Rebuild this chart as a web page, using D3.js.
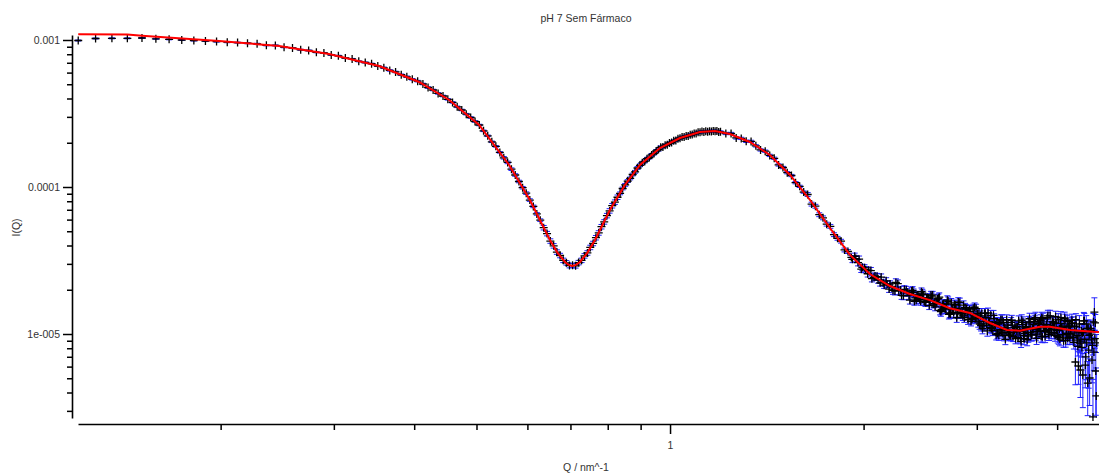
<!DOCTYPE html>
<html><head><meta charset="utf-8">
<script src="https://cdn.jsdelivr.net/npm/d3@7"></script>
<style>
body{margin:0;background:#fff}
svg{display:block}
text{font-family:"Liberation Sans",Arial,sans-serif}
</style>
</head><body>
<svg id="chart" width="1099" height="473"></svg>
<script>
// ---- data (Q in nm^-1, intensities in units of 1e-6) ----
const qValues = [
0.1201,0.1278,0.1355,0.1432,0.1509,0.1586,0.1663,0.174,0.1817,0.1894,
0.1971,0.2048,0.2125,0.2202,0.2279,0.2356,0.2433,0.251,0.2587,0.2664,
0.2741,0.2818,0.2895,0.2972,0.3049,0.3126,0.3203,0.328,0.3357,0.3434,
0.3511,0.3588,0.3665,0.3742,0.3819,0.3896,0.3973,0.405,0.4127,0.4204,
0.4281,0.4358,0.4435,0.4512,0.4589,0.4666,0.4743,0.482,0.4897,0.4974,
0.5051,0.5128,0.5205,0.5282,0.5359,0.5436,0.5513,0.559,0.5667,0.5744,
0.5821,0.5898,0.5975,0.6052,0.6129,0.6206,0.6283,0.636,0.6437,0.6514,
0.6591,0.6668,0.6745,0.6822,0.6899,0.6976,0.7053,0.713,0.7207,0.7284,
0.7361,0.7438,0.7515,0.7592,0.7669,0.7746,0.7823,0.79,0.7977,0.8054,
0.8131,0.8208,0.8285,0.8362,0.8439,0.8516,0.8593,0.867,0.8747,0.8824,
0.8901,0.8978,0.9055,0.9132,0.9209,0.9286,0.9363,0.944,0.9517,0.9594,
0.9671,0.9748,0.9825,0.9902,0.9979,1.0056,1.0133,1.021,1.0287,1.0364,
1.0441,1.0518,1.0595,1.0672,1.0749,1.0826,1.0903,1.098,1.1057,1.1134,
1.1211,1.1288,1.1365,1.1442,1.1519,1.1596,1.1673,1.175,1.1827,1.1904,1.1981,
1.2212,1.2443,1.2674,1.2905,1.3136,1.3367,1.3598,1.3829,1.406,1.4291,
1.4522,1.4753,1.4984,1.5215,1.5446,1.5677,1.5908,1.6139,1.637,1.6601,
1.6832,1.7063,1.7294,1.7525,1.7756,1.7987,1.8218,1.8449,1.868,1.8911,
1.9142,1.9373,1.9604,1.9835,2.0066,2.0297,2.0528,2.0759,2.099,2.1221,
2.1452,2.1683,2.1914,2.2145,2.2376,2.2607,2.2838,2.3069,2.33,2.3531,
2.3762,2.3993,2.4224,2.4455,2.4686,2.4917,2.5148,2.5379,2.561,2.5841,
2.6072,2.6303,2.6534,2.6765,2.6996,2.7227,2.7458,2.7689,2.792,2.8151,
2.8382,2.8613,2.8844,2.9075,2.9306,2.9537,2.9768,2.9999,3.023,3.0461,
3.0692,3.0923,3.1154,3.1385,3.1616,3.1847,3.2078,3.2309,3.254,3.2771,
3.3002,3.3233,3.3464,3.3695,3.3926,3.4157,3.4388,3.4619,3.485,3.5081,
3.5312,3.5543,3.5774,3.6005,3.6236,3.6467,3.6698,3.6929,3.716,3.7391,
3.7622,3.7853,3.8084,3.8315,3.8546,3.8777,3.9008,3.9239,3.947,3.9701,
3.9932,4.0163,4.0394,4.0625,4.0856,4.1087,4.1318,4.1549,4.178,4.2011,
4.2242,4.2473,4.2704,4.2935,4.3166,4.3397,4.3628,4.3859,4.409,4.4321,
4.4552,4.4783,4.5014,4.5245,4.5476,4.5707,4.5938
];
const intensityE6 = [
992,1024,1027,1027,1032,1019,1011,1000,992,984,
975,966,960,950,942,920,918,893,882,858,
848,825,816,791,781,754,743,716,703,690,
665,647,621,606,580,562,540,525,502,475,
457,433,416,395,376,351,334,313,297,279,
264,241,223,203,189,172,158,147,132.2,120.7,
109.0,98.9,90.8,81.5,73.8,65.6,59.5,52.9,48.2,42.9,
39.8,36.1,34.2,31.7,30.5,29.2,29.3,29.1,30.6,31.7,
34.0,35.6,38.8,41.3,45.2,48.7,53.7,57.9,63.9,68.8,
74.6,78.9,85.2,90.5,97.7,103.4,109.7,114.4,121.6,126.9,
134.7,140.5,146.1,149.3,155.6,158.7,165.3,169.0,175.7,179.6,
186.2,187.4,192.4,194.0,199.2,200.8,206.2,207.5,212.8,214.8,
218.5,218.8,222.3,222.7,226.5,227.2,231.2,231.6,235.6,236.0,
238.2,237.1,239.3,237.8,239.7,238.9,240.8,239.3,240.0,236.7,237.4,
231.2,231.2,215.8,214.1,204.6,204.3,190.6,178.8,175.2,164.0,
156.8,141.2,135.7,125.1,119.7,107.0,101.0,92.3,88.9,76.5,
74.0,64.8,61.7,55.9,54.0,47.4,44.8,42.8,37.3,36.4,
33.2,33.8,30.6,27.6,28.2,25.7,27.0,24.3,24.6,22.3,
22.3,23.0,20.2,21.1,19.6,22.0,19.9,18.2,19.9,18.3,
19.6,16.7,18.4,17.2,19.0,16.5,17.7,16.8,18.4,15.3,
17.3,14.5,15.9,14.9,17.0,13.9,14.7,15.9,12.9,15.0,
13.7,15.7,14.1,12.5,14.2,12.8,15.2,12.8,13.8,11.4,
12.2,13.8,10.5,12.1,10.9,13.4,11.5,10.1,11.9,10.5,
12.0,9.20,11.0,9.98,12.0,9.65,11.1,10.4,12.3,9.31,
11.6,9.29,10.9,10.2,12.7,9.85,10.8,12.2,9.33,11.8,
10.5,12.9,11.2,9.60,11.6,10.3,13.3,10.8,11.9,9.81,
10.6,12.5,9.23,11.1,9.88,12.8,10.7,9.39,11.5,10.0,
11.9,8.78,6.45,9.80,6.06,8.67,10.5,5.26,12.3,6.98,
10.9,7.78,9.98,9.13,2.73,14.1,5.60
];
const relErrorPct = [
0.8,0.8,0.8,0.8,0.8,0.8,0.8,0.8,0.8,0.8,0.8,0.8,0.8,0.8,0.8,0.8,0.8,0.8,0.8,0.8,0.8,0.8,0.8,0.8,0.8,0.8,0.8,0.8,0.8,0.8,0.8,
1.2,1.2,1.2,1.2,1.2,1.2,1.2,1.2,1.2,1.2,1.2,1.2,1.2,1.2,1.2,1.2,1.2,1.2,1.2,1.2,1.2,1.2,1.2,1.2,1.2,
2,2,2,2,2,2,2,2,2,2,2,
3.5,3.5,3.5,3.5,3.5,3.5,3.5,3.5,3.5,3.5,3.5,3.5,3.5,3.5,3.5,3.5,3.5,3.5,3.5,3.5,3.5,3.5,3.5,3.5,3.5,3.5,
2.2,2.2,2.2,2.2,2.2,2.2,2.2,2.2,2.2,2.2,2.2,2.2,2.2,2.2,2.2,2.2,2.2,2.2,
1.5,1.5,1.5,1.5,1.5,1.5,1.5,1.5,1.5,1.5,1.5,1.5,1.5,1.5,1.5,1.5,1.5,1.5,1.5,1.5,1.5,1.5,1.5,1.5,1.5,1.5,1.5,1.5,1.5,1.5,
1.8,1.8,1.8,1.8,1.8,1.8,1.8,1.8,1.8,1.8,1.8,1.8,1.8,1.8,1.8,1.8,1.8,1.8,
3,3,3,3,3,3,3,3,3,3,3,3,3,
5,5,5,5,5,5,5,5,5,5,5,5,
6,6,6,6,6,6,6,6,6,6,6,6,6,6,6,6,6,
7,7,7,7,7,7,7,7,7,7,7,7,7,7,7,7,7,7,
8,8,8,8,8,8,8,8,8,8,8,8,8,8,8,8,8,8,8,8,8,8,
9,9,9,9,9,9,9,9,9,9,9,9,9,9,9,9,9,9,9,9,9,
10,10,10,10,10,10,10,10,10,10,10,30,10,
25,14,12,40,12,30,14,45,15,16,80,25,50
];
// extra high-Q points (interleaved measurement points)
const qValuesB = [
1.9219,1.945,1.9681,1.9912,2.0143,2.0374,2.0605,2.0836,2.1067,2.1298,
2.1529,2.176,2.1991,2.2222,2.2453,2.2684,2.2915,2.3146,2.3377,2.3608,
2.3839,2.407,2.4301,2.4532,2.4763,2.4994,2.5225,2.5456,2.5687,2.5918,
2.6149,2.638,2.6611,2.6842,2.7073,2.7304,2.7535,2.7766,2.7997,2.8228,
2.8459,2.869,2.8921,2.9152,2.9383,2.9614,2.9845,3.0076,3.0307,3.0538,
3.0769,3.1,3.1231,3.1462,3.1693,3.1924,3.2155,3.2386,3.2617,3.2848,
3.3079,3.331,3.3541,3.3772,3.4003,3.4234,3.4465,3.4696,3.4927,3.5158,
3.5389,3.562,3.5851,3.6082,3.6313,3.6544,3.6775,3.7006,3.7237,3.7468,
3.7699,3.793,3.8161,3.8392,3.8623,3.8854,3.9085,3.9316,3.9547,3.9778,
4.0009,4.024,4.0471,4.0702,4.0933,4.1164,4.1395,4.1626,4.1857,4.2088,
4.2319,4.255,4.2781,4.3012,4.3243,4.3474,4.3705,4.3936,4.4167,4.4398,
4.4629,4.486,4.5091,4.5322,4.5553,4.5784,4.6015
];
const intensityBE6 = [
32.2,32.6,32.3,28.4,27.4,27.1,23.8,24.8,23.3,24.4,
21.5,21.8,21.9,19.8,22.4,19.7,18.3,20.1,19.2,17.0,
19.8,17.6,18.4,16.7,18.5,16.4,17.6,18.4,16.0,16.3,
17.5,14.2,16.0,14.8,16.7,13.7,14.8,15.7,13.7,16.4,
13.9,12.9,14.8,14.2,12.2,14.9,12.8,13.7,11.7,13.8,
11.4,12.9,13.9,11.1,11.5,12.7,9.9,11.7,10.7,12.5,
9.77,10.7,11.5,9.82,12.4,10.3,9.32,11.2,10.7,8.90,
12.0,10.1,11.2,9.66,11.9,9.86,11.6,12.9,10.4,11.0,
12.4,9.59,11.6,10.6,12.9,9.92,11.2,12.1,10.2,13.1,
10.6,9.46,11.8,11.1,9.01,12.4,10.1,11.2,9.43,11.8,
9.48,11.2,12.5,9.08,9.70,5.69,8.10,10.3,9.21,11.7,
4.64,9.78,10.9,6.65,12.1,9.31,3.79
];
const relErrorBPct = [
5,5,5,5,5,5,5,5,5,5,5,5,5,
6,6,6,6,6,6,6,6,6,6,6,6,6,6,6,6,6,
7,7,7,7,7,7,7,7,7,7,7,7,7,7,7,7,7,
8,8,8,8,8,8,8,8,8,8,8,8,8,8,8,8,8,8,8,8,8,8,
9,9,9,9,9,9,9,9,9,9,9,9,9,9,9,9,9,9,9,9,9,
10,10,10,10,10,10,10,10,10,10,10,10,10,
14,14,35,14,14,14,14,40,14,14,30,14,14,55
];
const qValuesC = [
2.3916,2.4147,2.4378,2.4609,2.484,2.5071,2.5302,2.5533,2.5764,2.5995,
2.6226,2.6457,2.6688,2.6919,2.715,2.7381,2.7612,2.7843,2.8074,2.8305,
2.8536,2.8767,2.8998,2.9229,2.946,2.9691,2.9922,3.0153,3.0384,3.0615,
3.0846,3.1077,3.1308,3.1539,3.177,3.2001,3.2232,3.2463,3.2694,3.2925,
3.3156,3.3387,3.3618,3.3849,3.408,3.4311,3.4542,3.4773,3.5004,3.5235,
3.5466,3.5697,3.5928,3.6159,3.639,3.6621,3.6852,3.7083,3.7314,3.7545,
3.7776,3.8007,3.8238,3.8469,3.87,3.8931,3.9162,3.9393,3.9624,3.9855,
4.0086,4.0317,4.0548,4.0779,4.101,4.1241,4.1472,4.1703,4.1934,4.2165,
4.2396,4.2627,4.2858,4.3089,4.332,4.3551,4.3782,4.4013,4.4244,4.4475,
4.4706,4.4937,4.5168,4.5399,4.563,4.5861,4.6092
];
const intensityCE6 = [
19.1,17.0,17.8,19.4,16.7,17.6,15.6,17.9,16.1,16.4,
17.8,14.7,15.3,16.0,13.6,16.3,14.0,14.9,16.5,14.0,
13.3,15.1,14.0,14.6,12.6,13.3,14.9,12.1,13.3,10.9,
13.8,11.7,12.1,13.4,10.6,11.3,12.0,9.84,12.5,10.2,
11.1,12.5,10.2,9.74,11.5,10.6,11.2,9.45,10.4,12.4,
9.77,11.1,9.14,12.1,10.3,11.0,12.6,9.98,10.8,11.9,
9.68,12.7,10.4,11.5,13.3,10.7,10.2,12.1,11.1,11.8,
9.65,10.8,12.9,9.91,11.3,9.04,12.2,10.1,10.7,12.4,
9.47,10.3,11.3,8.24,11.7,8.95,10.2,12.3,6.15,8.70,
10.9,5.02,10.6,8.37,7.54,11.9,8.70
];
const relErrorCPct = [
6,6,6,6,6,6,6,6,6,6,
7,7,7,7,7,7,7,7,7,7,7,7,7,7,7,7,7,
8,8,8,8,8,8,8,8,8,8,8,8,8,8,8,8,8,8,8,8,8,8,
9,9,9,9,9,9,9,9,9,9,9,9,9,9,9,9,9,9,9,9,9,
10,10,10,10,10,10,10,10,10,10,10,10,10,
14,14,14,14,14,30,14,14,35,14,14,25,14,14
];
const fitQ = [0.1201,0.1432,0.1509,0.1989,0.2466,0.2948,0.3527,0.4071,0.4534,0.5048,
0.562,0.6054,0.6504,0.668,0.6864,0.695,0.7035,0.713,0.7243,0.744,0.7643,0.8062,0.8507,0.8979,
0.9645,1.036,1.1129,1.1744,1.239,1.3313,1.4299,1.5368,1.6509,1.7731,1.9049,2.0459,2.1979,
2.3605,2.536,2.7246,2.927,3.1443,3.342,3.5011,3.7613,3.8986,4.1879,4.5479,4.647];
const fitIE6 = [1093,1090,1070,984,910,803,665,518,391,264,
141.2,81.6,43.6,35.8,30.9,29.6,29.0,29.4,30.9,35.8,43.6,69.8,103.2,141.2,
184.2,215.5,236.7,240.4,229.4,202.4,165.1,120.7,81.6,52.6,34.5,25.6,21.2,
18.7,17.0,14.96,13.9,11.88,10.65,10.53,11.2,11.2,10.65,10.37,10.32];

const yMajorTicks = [1e-3, 1e-4, 1e-5];
const yMajorLabels = ["0.001", "0.0001", "1e-005"];
const yMinorTicks = [3e-6,4e-6,5e-6,6e-6,7e-6,8e-6,9e-6,2e-5,3e-5,4e-5,5e-5,6e-5,7e-5,8e-5,9e-5,2e-4,3e-4,4e-4,5e-4,6e-4,7e-4,8e-4,9e-4];
const xMajorTicks = [1];
const xMajorLabels = ["1"];
const xMinorTicks = [0.2,0.3,0.4,0.5,0.6,0.7,0.8,0.9,2,3,4];
const chartTitle = "pH 7 Sem Fármaco";
const xTitle = "Q / nm^-1";
const yTitle = "I(Q)";

// ---- drawing ----
const svg = d3.select("#chart");
const x = d3.scaleLog().domain([0.12, 4.647]).range([78, 1099]);
const yDom = [2.683e-6, 1.0814e-3];
const y = d3.scaleLog().domain(yDom).range([418, 35]);
const textColor = "#333";
const fs = "10.5px";

// axes
const gYm = svg.append("g").attr("transform","translate(72,0)")
  .call(d3.axisLeft(y).tickValues(yMinorTicks).tickFormat("").tickSize(5).tickSizeOuter(0));
gYm.select(".domain").remove();
svg.append("g").attr("transform","translate(72,0)")
  .call(d3.axisLeft(y).tickValues(yMajorTicks).tickFormat((d,i)=>yMajorLabels[i]).tickSize(9).tickSizeOuter(0).tickPadding(3));
const gXm = svg.append("g").attr("transform","translate(0,424)")
  .call(d3.axisBottom(x).tickValues(xMinorTicks).tickFormat("").tickSize(6).tickSizeOuter(0));
gXm.select(".domain").remove();
svg.append("g").attr("transform","translate(0,424)")
  .call(d3.axisBottom(x).tickValues(xMajorTicks).tickFormat((d,i)=>xMajorLabels[i]).tickSize(10).tickSizeOuter(0).tickPadding(8));

svg.selectAll(".domain").attr("stroke","#000").attr("stroke-width",1.6);
svg.selectAll(".tick line").attr("stroke","#000").attr("stroke-width",1.5);
svg.selectAll(".tick text").attr("fill",textColor).style("font-size",fs).style("font-family",'"Liberation Sans",Arial,sans-serif');

// data
const toPts = (qs, is, es) => qs.map((q,i)=>({q, I: is[i]*1e-6, e: es[i]/100}));
const data = toPts(qValues, intensityE6, relErrorPct)
  .concat(toPts(qValuesB, intensityBE6, relErrorBPct))
  .concat(toPts(qValuesC, intensityCE6, relErrorCPct))
  .sort((a,b)=>a.q-b.q);
const plot = svg.append("g");
plot.append("g").attr("stroke","#2020ff").attr("stroke-width",1).attr("fill","none")
  .selectAll("path").data(data).join("path")
  .attr("d", d => {
    const cx = x(d.q);
    const lo = d.I*(1-d.e);
    const clipped = lo <= yDom[0];
    const y1 = y(clipped ? yDom[0] : lo);
    const y2 = y(d.I*(1+d.e));
    let p = `M${cx},${y1}V${y2}M${cx-3},${y2}H${cx+3}`;
    if (!clipped) p += `M${cx-3},${y1}H${cx+3}`;
    return p;
  });
plot.append("g").attr("stroke","#000").attr("stroke-width",1.3).attr("fill","none")
  .selectAll("path").data(data).join("path")
  .attr("d", d => {
    const cx = x(d.q), cy = y(d.I);
    return `M${cx-4},${cy}H${cx+4}M${cx},${cy-4}V${cy+4}`;
  });

// fit line
const fit = fitQ.map((q,i)=>({q, I: fitIE6[i]*1e-6}));
plot.append("path").datum(fit)
  .attr("fill","none").attr("stroke","#ff0000").attr("stroke-width",2)
  .attr("d", d3.line().x(d=>x(d.q)).y(d=>y(d.I)));

// titles
svg.append("text").attr("x",586).attr("y",21.5).attr("text-anchor","middle")
  .attr("fill",textColor).style("font-size",fs).text(chartTitle);
svg.append("text").attr("x",586).attr("y",471).attr("text-anchor","middle")
  .attr("fill",textColor).style("font-size",fs).text(xTitle);
svg.append("text").attr("transform","translate(20,227.5) rotate(-90)").attr("text-anchor","middle")
  .attr("fill",textColor).style("font-size",fs).text(yTitle);
</script>
</body></html>
